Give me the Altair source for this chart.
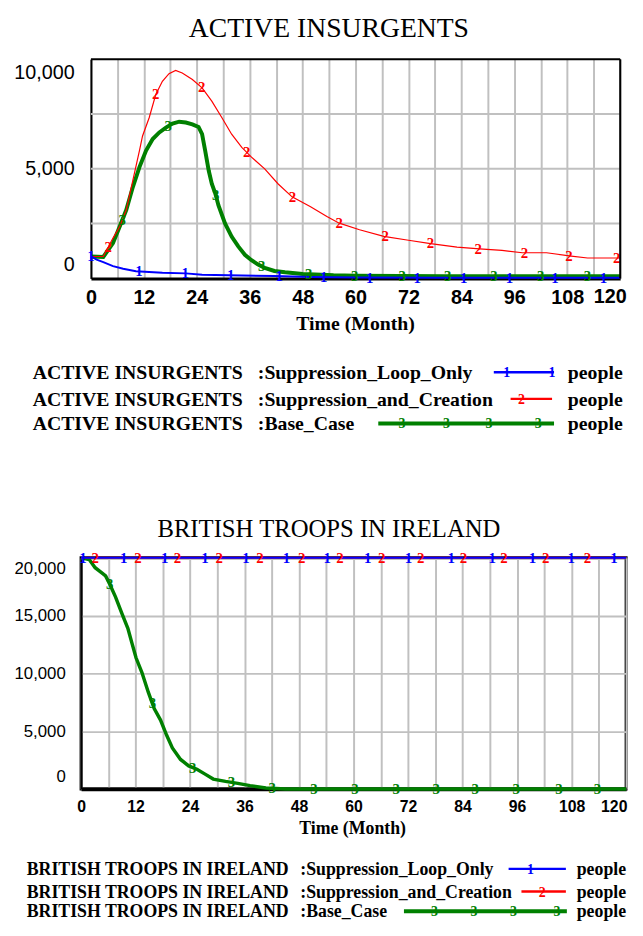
import altair as alt
import numpy as np
import pandas as pd

# ---------------- ACTIVE INSURGENTS (people) ----------------
ins_loop_month = [0, 1.3, 2.8, 5.0, 7.3, 10.2, 16.2, 21.5, 25.2, 31.2, 41.6, 50, 60, 80, 100, 120]
ins_loop_value = [1000, 860, 740, 560, 440, 330, 260, 230, 170, 140, 105, 60, 40, 30, 30, 30]

ins_creation_month = [0, 2.8, 5.0, 6.5, 8.0, 9.5, 11.0, 11.7, 13.2, 14.7, 16.2, 17.7, 19.2, 20.7,
                      23.0, 25.2, 27.4, 29.7, 31.9, 34.2, 36.4, 39.4, 42.4, 45.6, 49.8, 53.5, 56.3,
                      60.9, 66.4, 72, 77, 83, 88.1, 93.2, 97.8, 103.3, 108.9, 112.6, 120]
ins_creation_value = [1000, 1000, 1840, 2360, 3120, 4470, 5830, 6500, 7330, 8390, 8990, 9340, 9490, 9370,
                      9070, 8690, 8090, 7330, 6580, 5980, 5530, 5000, 4320, 3720, 3270, 2820, 2520,
                      2220, 1920, 1740, 1590, 1430, 1350, 1275, 1170, 1170, 1020, 930, 930]

ins_base_month = [0, 2.8, 5.0, 6.5, 8.0, 9.5, 11.0, 12.5, 14.0, 15.5, 17.0, 18.5, 20.0, 21.5, 23.0,
                  24.4, 25.2, 25.9, 26.7, 27.4, 28.2, 28.9, 30.4, 31.9, 33.4, 34.9, 36.4, 37.9, 39.4,
                  41.6, 44, 48, 55, 60, 70, 80, 90, 100, 110, 120]
ins_base_value = [1000, 980, 1610, 2360, 3120, 4170, 5080, 5830, 6360, 6660, 6880, 7060, 7150, 7110, 7030,
                  6910, 6580, 5830, 4920, 4320, 3870, 3340, 2510, 1910, 1460, 1080, 830, 630, 480,
                  340, 280, 200, 140, 120, 110, 100, 100, 100, 100, 100]

ins_loop_marks = [0, 10.9, 21.4, 31.7, 42.7, 52.8, 63.2, 74, 84.5, 94.9, 105.2, 116.2]
ins_creation_marks = [3.9, 14.7, 25.1, 35.3, 45.7, 56.3, 66.7, 77, 87.8, 98.3, 108.4, 119.2]
ins_base_marks = [7.1, 17.5, 28.3, 38.7, 49.4, 59.8, 70.6, 80.9, 91.4, 102, 112.6]

# ---------------- BRITISH TROOPS IN IRELAND (people) ----------------
troops_loop_month = [0, 120]
troops_loop_value = [20000, 20000]
troops_creation_month = [0, 120]
troops_creation_value = [20000, 20000]
troops_base_month = [0, 1.8, 3.1, 4.5, 5.4, 6.3, 7.6, 9.0, 10.3, 11.2, 12.1, 13.4, 14.8, 16.1, 17.5,
                     18.8, 20.1, 21.9, 23.7, 25.5, 27.3, 29.1, 31.8, 34.5, 37.2, 40.7, 45, 60, 80, 100, 120]
troops_base_value = [20000, 19860, 19150, 18720, 18440, 17730, 16600, 15180, 13900, 12620, 11350, 10070,
                     8370, 6950, 5960, 4680, 3550, 2550, 1990, 1700, 1280, 850, 650, 480, 280, 85, 0, 0,
                     0, 0, 0]

troops_loop_marks = [0.4, 9.4, 18.4, 27.3, 36.3, 45.2, 54.2, 63.1, 72.1, 81.5, 90.5, 99.4, 107.9, 117.3]
troops_creation_marks = [3.1, 12.5, 21.2, 30.4, 39.4, 48.6, 57.0, 66.2, 74.8, 84.2, 93.1, 102.3, 111.5]
troops_base_marks = [6.3, 15.7, 24.6, 33.1, 42.1, 51.3, 60.3, 69.4, 78.2, 86.8, 95.8, 105.2, 113.7]

# ---------------- shared text ----------------
series_names = ["Suppression_Loop_Only", "Suppression_and_Creation", "Base_Case"]
series_ids = ["1", "2", "3"]
unit_label = "people"
x_title = "Time (Month)"
x_tick_values = list(range(0, 121, 6))
x_last_label = "120"
ins_y_values = [0, 2500, 5000, 7500, 10000]
ins_y_inner_grid = [2500, 5000, 7500]
troops_y_values = [0, 5000, 10000, 15000, 20000]

SERIF = "Liberation Serif"
SANS = "Liberation Sans"
BLUE, RED, GREEN = "#0000ff", "#ff0000", "#008000"
GRID = "#c0c0c0"


def text_layer(txt, x, y, size, weight="normal", color="black", align="left", baseline="middle",
               font=SERIF):
    dummy = pd.DataFrame({"k": [0]})
    return alt.Chart(dummy).mark_text(
        text=txt, font=font, fontWeight=weight, fontSize=size, align=align, baseline=baseline,
        color=color).encode(x=alt.value(x), y=alt.value(y))


def rule_layer(color, width, **enc):
    dummy = pd.DataFrame({"k": [0]})
    return alt.Chart(dummy).mark_rule(color=color, strokeWidth=width).encode(
        **{k: alt.value(v) for k, v in enc.items()})


def build_panel(cfg):
    x0, x1 = cfg["x_range"]
    xs = alt.Scale(domain=[0, 120], range=[x0, x1], nice=False, zero=False)
    ys = alt.Scale(domain=[0, cfg["ymax"]], nice=False, zero=False)
    X = alt.X("Time:Q", scale=xs, axis=alt.Axis(
        values=x_tick_values,
        labelExpr="datum.value % 12 === 0 && datum.value < 120 ? datum.label : ''",
        title=None,
        labelFont=SANS, labelFontSize=cfg["xlabel_size"], labelFontWeight="bold", labelColor="black",
        labelFlush=False, labelOverlap=False, labelPadding=cfg["xlabel_pad"],
        ticks=False, grid=True, gridColor=GRID, gridWidth=2, domainColor="black",
        domainWidth=cfg["xdomain_w"]))
    Y = alt.Y("Value:Q", scale=ys, axis=alt.Axis(
        values=cfg["yvalues"], labelExpr=cfg["ylabel_expr"], format=",.0f", title=None,
        labelFont=SANS, labelFontSize=cfg["ylabel_size"], labelColor="black", labelFlush=True,
        labelFlushOffset=cfg["yflush_offset"],
        labelOverlap=False, labelPadding=cfg["ylabel_pad"], ticks=False, grid=cfg["y_axis_grid"],
        gridColor=GRID, gridWidth=2, domainColor="black", domainWidth=2, offset=cfg["y_offset"]))

    layers = []
    if cfg["y_rule_grid"]:
        gdf = pd.DataFrame({"Value": cfg["y_rule_grid"]})
        layers.append(alt.Chart(gdf).mark_rule(color=GRID, strokeWidth=2).encode(
            y=Y, x=alt.value(x0), x2=alt.value(x1)))
    order = [2, 1, 0]
    for i in order:
        months, values, width, color, marks = cfg["series"][i]
        df = pd.DataFrame({"Time": months, "Value": values})
        layers.append(alt.Chart(df).mark_line(color=color, strokeWidth=width).encode(x=X, y=Y))
    for i in order:
        months, values, width, color, marks = cfg["series"][i]
        mdf = pd.DataFrame({"Time": marks,
                            "Value": np.interp(marks, months, values),
                            "id": series_ids[i]})
        layers.append(alt.Chart(mdf).mark_text(font=SERIF, fontWeight="bold", fontSize=15,
                                               color=color, baseline="middle", align="center")
                      .encode(x=X, y=Y, text="id:N"))

    # frame (top and right edges) when the plot does not fill the view
    if cfg["draw_frame"]:
        layers.append(rule_layer("black", 2, x=x0, x2=x1, y=0))
        layers.append(rule_layer("black", 2, x=x1, y=0, y2=cfg["height"]))

    # last x tick label, pulled inside the page edge
    layers.append(text_layer(x_last_label, x1 + cfg["last_label_dx"],
                             cfg["height"] + cfg["xlabel_pad"] + cfg["xdomain_w"] / 2 - 1.5,
                             cfg["xlabel_size"], weight="bold", align="center", baseline="top",
                             font=SANS))

    # chart title and axis title
    layers.append(text_layer(cfg["title"], cfg["title_x"], cfg["title_y"], cfg["title_size"],
                             align="center", baseline="alphabetic"))
    layers.append(text_layer(x_title, cfg["xtitle_x"], cfg["xtitle_y"], cfg["xtitle_size"],
                             weight="bold", align="center", baseline="alphabetic"))

    # legend
    lg = cfg["legend"]
    colors = [BLUE, RED, GREEN]
    for i in range(3):
        yr = lg["rows"][i]
        layers.append(text_layer(cfg["var_label"], lg["name_x"], yr, lg["fs"], weight="bold"))
        layers.append(text_layer(":" + series_names[i], lg["suffix_x"], yr, lg["fs"], weight="bold"))
        layers.append(text_layer(unit_label, lg["people_x"], yr, lg["fs"], weight="bold"))
        s0, s1 = lg["seg"][i]
        layers.append(rule_layer(colors[i], lg["seg_w"][i], x=s0, x2=s1, y=yr - 1))
        for mx in lg["marks"][i]:
            layers.append(text_layer(series_ids[i], mx, yr, 14, weight="bold", color=colors[i],
                                     align="center"))

    return alt.layer(*layers).properties(
        width=cfg["width"], height=cfg["height"],
        view=alt.ViewBackground(stroke=cfg["view_stroke"], strokeWidth=cfg["view_w"]),
    )


# Top panel: view starts at the same x as the bottom one; its plot area starts 10px further right.
top_cfg = dict(
    ymax=10000, yvalues=ins_y_values,
    ylabel_expr="datum.value % 5000 === 0 ? datum.label : ''", yflush_offset=-4,
    width=546, height=222, x_range=[10, 546], y_offset=-10, y_axis_grid=False,
    y_rule_grid=ins_y_inner_grid, draw_frame=True, view_stroke="transparent", view_w=0,
    title="ACTIVE INSURGENTS", title_size=28, title_x=251, title_y=-22.5,
    xtitle_size=20, xtitle_x=278, xtitle_y=274, xlabel_size=20, xlabel_pad=9, xdomain_w=3,
    last_label_dx=-10,
    ylabel_size=20, ylabel_pad=17,
    var_label="ACTIVE INSURGENTS",
    series=[
        (ins_loop_month, ins_loop_value, 2, BLUE, ins_loop_marks),
        (ins_creation_month, ins_creation_value, 1.2, RED, ins_creation_marks),
        (ins_base_month, ins_base_value, 4, GREEN, ins_base_marks),
    ],
    legend=dict(
        fs=20, rows=[318, 345, 370], name_x=-49, suffix_x=179, people_x=493,
        seg=[(418, 479), (435, 477), (301, 479)], seg_w=[2.5, 2.5, 4],
        marks=[[431, 477], [446], [325, 370, 413, 463]],
    ),
)

bottom_cfg = dict(
    ymax=20000, yvalues=troops_y_values,
    ylabel_expr="datum.label", yflush_offset=-3,
    width=552, height=234, x_range=[0, 552], y_offset=0, y_axis_grid=True,
    y_rule_grid=None, draw_frame=False, view_stroke="black", view_w=3,
    title="BRITISH TROOPS IN IRELAND", title_size=25, title_x=251, title_y=-21,
    xtitle_size=18, xtitle_x=275, xtitle_y=280, xlabel_size=16, xlabel_pad=10, xdomain_w=4,
    last_label_dx=-12,
    ylabel_size=17, ylabel_pad=16,
    var_label="BRITISH TROOPS IN IRELAND",
    series=[
        (troops_loop_month, troops_loop_value, 2, BLUE, troops_loop_marks),
        (troops_creation_month, troops_creation_value, 2, RED, troops_creation_marks),
        (troops_base_month, troops_base_value, 3.5, GREEN, troops_base_marks),
    ],
    legend=dict(
        fs=18, rows=[316, 339, 359], name_x=-55, suffix_x=222, people_x=502,
        seg=[(433, 491), (446, 491), (327, 492)], seg_w=[2.5, 2.5, 4],
        marks=[[455], [467], [358, 398, 438, 482]],
    ),
)

top = build_panel(top_cfg)
bottom = build_panel(bottom_cfg)

chart = alt.vconcat(top, bottom, spacing=82).properties(
    padding={"left": 4, "top": 1, "right": 0, "bottom": -2}
).configure(background="white")

chart.save("out.html", embed_options={"renderer": "svg", "actions": False})
